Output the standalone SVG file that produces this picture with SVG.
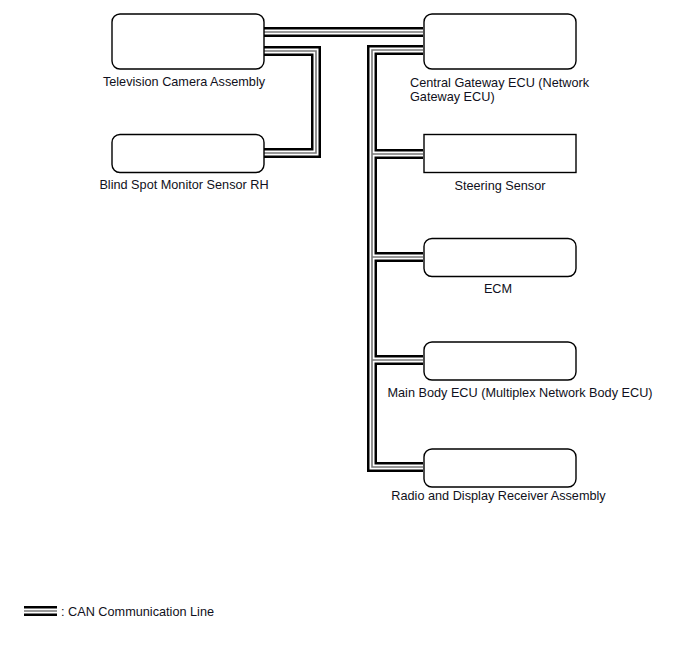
<svg xmlns="http://www.w3.org/2000/svg" width="688" height="658" viewBox="0 0 688 658">
<style>
.box{fill:#fff;stroke:#000;stroke-width:1.4}
.lbl{font-family:"Liberation Sans",Arial,sans-serif;font-size:12.7px;fill:#101020}
.c1{fill:none;stroke:#000;stroke-width:10}
.c2{fill:none;stroke:#fff;stroke-width:5}
.c3{fill:none;stroke:#777;stroke-width:1.6}
</style>
<defs>
<g id="bus">
<path d="M264 32H423"/>
<path d="M264 51H316V153H264"/>
<path d="M423 50H372V467H423"/>
<path d="M372 154H423"/>
<path d="M372 257H423"/>
<path d="M372 360H423"/>
<path d="M24 611H57"/>
</g>
</defs>
<rect width="688" height="658" fill="#fff"/>
<g id="connectors">
<use href="#bus" class="c1"/>
<use href="#bus" class="c2"/>
<use href="#bus" class="c3"/>
</g>
<g id="tv">
<rect class="box" x="112" y="14" width="152" height="55" rx="8"/>
<text class="lbl" x="184" y="85.5" text-anchor="middle">Television Camera Assembly</text>
</g>
<g id="bsm">
<rect class="box" x="112" y="134.5" width="152" height="38" rx="8"/>
<text class="lbl" x="184" y="189" text-anchor="middle">Blind Spot Monitor Sensor RH</text>
</g>
<g id="gateway">
<rect class="box" x="424" y="14" width="152" height="55" rx="8"/>
<text class="lbl" x="410" y="86.5">Central Gateway ECU (Network</text>
<text class="lbl" x="410" y="100.5">Gateway ECU)</text>
</g>
<g id="steering">
<rect class="box" x="424" y="134.5" width="152" height="38"/>
<text class="lbl" x="500" y="190" text-anchor="middle">Steering Sensor</text>
</g>
<g id="ecm">
<rect class="box" x="424" y="238.5" width="152" height="38" rx="8"/>
<text class="lbl" x="498" y="292.5" text-anchor="middle">ECM</text>
</g>
<g id="mainbody">
<rect class="box" x="424" y="342" width="152" height="38" rx="8"/>
<text class="lbl" x="520" y="396.5" text-anchor="middle">Main Body ECU (Multiplex Network Body ECU)</text>
</g>
<g id="radio">
<rect class="box" x="424" y="449" width="152" height="38" rx="8"/>
<text class="lbl" x="498.5" y="500" text-anchor="middle">Radio and Display Receiver Assembly</text>
</g>
<g id="legend">
<text class="lbl" x="61" y="616">: CAN Communication Line</text>
</g>
</svg>
